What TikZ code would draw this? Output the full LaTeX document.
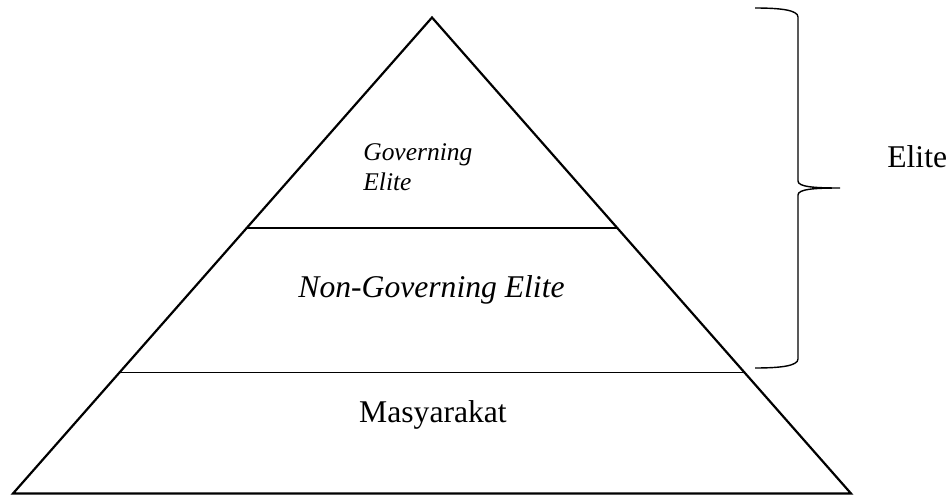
\documentclass[tikz,border=0pt]{standalone}
\usepackage{fontspec}
\setmainfont{Liberation Serif}[
    ItalicFont={Liberation Serif Italic},
    BoldFont={Liberation Serif Bold}]
\usetikzlibrary{calc, positioning}
\tikzset{
    vertice/.style={coordinate},
    borde/.style={draw=black, line width=1.25pt, line join=miter},
    division/.style={draw=black, line width=0.8pt},
    llave/.style={draw=black, line width=0.8pt},
    nivel/.style={inner sep=0pt, font=\fontsize{18}{21.6}\selectfont},
    nivelgob/.style={inner sep=0pt, align=left, font=\fontsize{14.5}{17}\selectfont\itshape}}

\begin{document}
\begin{tikzpicture}
    \useasboundingbox (0,0) rectangle (19.02,9.92);
    % Piramide
    \coordinate (cima) at (8.64,9.57);
    \coordinate (izq) at (0.26,0.05);
    \coordinate (der) at (17.02,0.05);
    \draw[borde] (cima) -- (izq) -- (der) -- cycle;
    % Divisiones
    \coordinate (d1i) at ($(cima)!0.4418!(izq)$);
    \coordinate (d1d) at ($(cima)!0.4418!(der)$);
    \coordinate (d2i) at ($(cima)!0.746!(izq)$);
    \coordinate (d2d) at ($(cima)!0.746!(der)$);
    \draw[borde] (d1i) -- (d1d);
    \draw[division] (d2i) -- (d2d);
    % Niveles
    \node (gob) [nivelgob, anchor=west] at (7.26,6.57) {Governing\\Elite};
    \node (nogob) [nivel, anchor=base] at (8.63,3.98) {\itshape Non-Governing Elite};
    \node (masy) [nivel, anchor=base] at (8.66,1.48) {Masyarakat};
    % Llave
    \coordinate (ll1) at (15.10,9.76);
    \coordinate (ll2) at (16.80,6.16);
    \coordinate (ll3) at (15.10,2.56);
    \draw[llave] (ll1) .. controls (15.60,9.76) and (15.96,9.72) .. (15.96,9.58)
        -- (15.96,6.30) .. controls (15.96,6.18) and (16.30,6.16) .. (ll2)
        .. controls (16.30,6.16) and (15.96,6.14) .. (15.96,6.02)
        -- (15.96,2.74) .. controls (15.96,2.60) and (15.60,2.56) .. (ll3);
    \node (elite) [nivel, anchor=base west] at (17.74,6.58) {Elite};
\end{tikzpicture}
\end{document}
